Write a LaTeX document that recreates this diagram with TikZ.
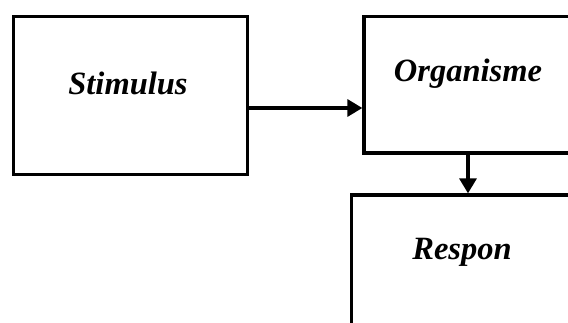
\documentclass[tikz,border=0pt]{standalone}
\usepackage{fontspec}
\setmainfont{Liberation Serif}
\usetikzlibrary{arrows.meta}
\begin{document}
\begin{tikzpicture}[x=1pt,y=-1pt,
  box/.style={draw=black, line width=3.3pt, inner sep=0pt, rectangle},
  lbl/.style={anchor=base, inner sep=0pt, font=\fontsize{32.5}{36}\selectfont\bfseries\itshape},
  arr/.style={line width=3.3pt, -{Triangle[length=15pt,width=17pt]}}]
\useasboundingbox (0,0) rectangle (568,323);
\clip (0,0) rectangle (568,323);
\node[box, minimum width=234pt, minimum height=158pt] (stim) at (130.5,95.5) {};
\node[box, minimum width=208pt, minimum height=136.5pt] (org) at (468,84.75) {};
\node[box, minimum width=221pt, minimum height=205pt] (resp) at (462,297.5) {};
\node[lbl] (stimt) at (128,95) {Stimulus};
\node[lbl] (orgt) at (468,81.7) {Organisme};
\node[lbl] (respt) at (462,260) {Respon};
\draw[arr] (stim.east |- 0,108) -- (org.west |- 0,108);
\draw[arr] (org.south) -- (org.south |- resp.north);
\end{tikzpicture}
\end{document}
